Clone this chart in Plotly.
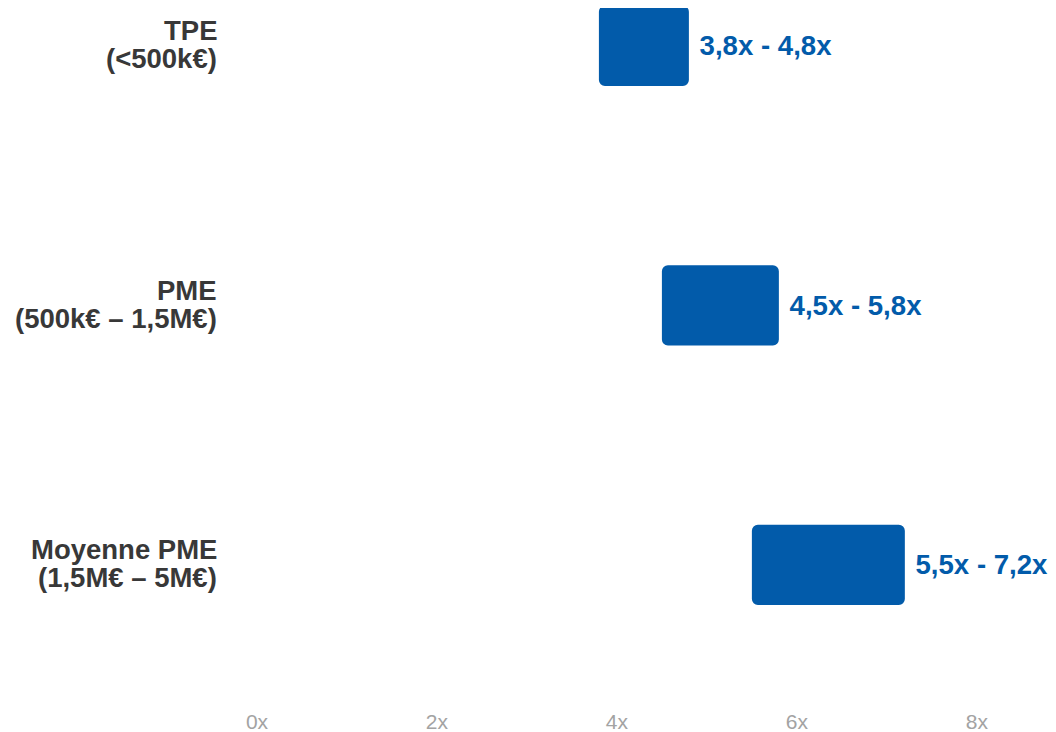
import plotly.graph_objects as go

categories = ["TPE", "PME", "Moyenne PME"]
subtitles = ["(<500k€)", "(500k€ – 1,5M€)", "(1,5M€ – 5M€)"]
low = [3.8, 4.5, 5.5]
high = [4.8, 5.8, 7.2]
tick_vals = [0, 2, 4, 6, 8]
tick_text = ["0x", "2x", "4x", "6x", "8x"]

def fmt(v):
    return f"{v:.1f}".replace(".", ",") + "x"

labels = [" " + fmt(a) + " - " + fmt(b) for a, b in zip(low, high)]
widths = [b - a for a, b in zip(low, high)]

BLUE = "#025BAA"
DARK = "#383838"
LABEL_SIZE = 27.5
LINE_GAP = 28

fig = go.Figure(go.Bar(
    y=categories,
    x=widths,
    base=low,
    orientation="h",
    width=0.31,
    marker=dict(color=BLUE, cornerradius=6, line=dict(width=0)),
    text=labels,
    textposition="outside",
    textfont=dict(family="Liberation Sans", size=27.6, color=BLUE, weight=700),
    cliponaxis=False,
    hoverinfo="skip",
))

# two-line category labels (tight line spacing)
for cat, sub in zip(categories, subtitles):
    for txt, shift in ((cat, LINE_GAP / 2 + 1), (sub, -LINE_GAP / 2 + 1)):
        fig.add_annotation(
            x=0, xref="paper", xanchor="right", xshift=-38,
            y=cat, yref="y", yanchor="middle", yshift=shift,
            text=txt, showarrow=False,
            font=dict(family="Liberation Sans", size=LABEL_SIZE, color=DARK, weight=700),
        )

fig.update_layout(
    width=1048, height=724,
    margin=dict(l=249, r=0, t=0, b=27),
    paper_bgcolor="white", plot_bgcolor="white",
    showlegend=False,
    font=dict(family="Liberation Sans"),
    xaxis=dict(
        range=[0, 8.88], tickvals=tick_vals, ticktext=tick_text,
        showgrid=False, zeroline=False, showline=False, ticks="",
        ticklabelstandoff=2,
        tickfont=dict(family="Liberation Sans", size=21, color="#a3a3a3"),
    ),
    yaxis=dict(
        type="category", range=[2.54, -0.146],
        showgrid=False, zeroline=False, showline=False, ticks="",
        showticklabels=False,
    ),
)

fig.write_html("out.html", config={"displayModeBar": False})
